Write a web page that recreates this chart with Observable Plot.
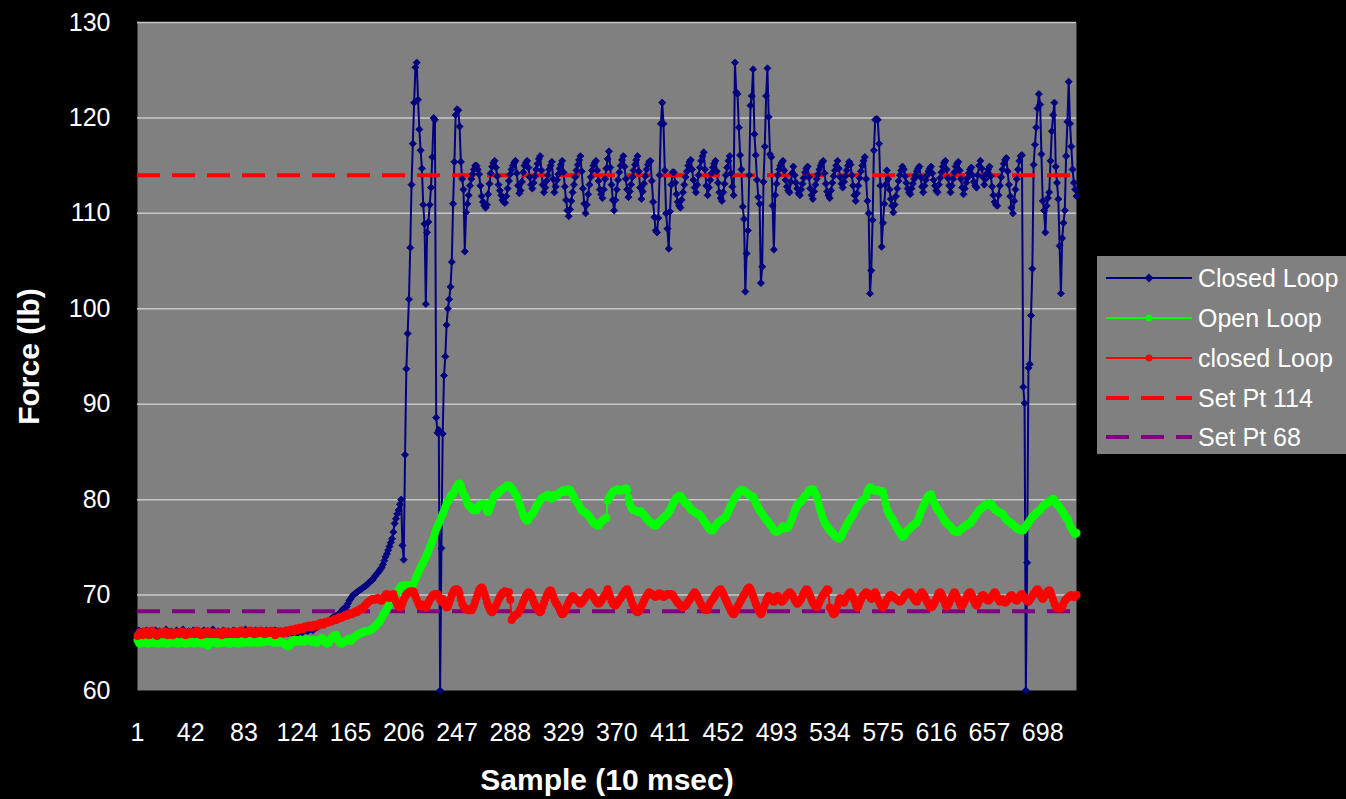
<!DOCTYPE html>
<html><head><meta charset="utf-8">
<script src="https://cdn.jsdelivr.net/npm/d3@7"></script>
<script src="https://cdn.jsdelivr.net/npm/@observablehq/plot@0.6"></script>
<style>
html,body{margin:0;padding:0;background:#000;overflow:hidden;}
#wrap{position:relative;width:1346px;height:799px;font-family:"Liberation Sans",Arial,sans-serif;}
#legend{position:absolute;left:1097px;top:256px;width:249px;height:198px;background:#808080;}
.row{position:absolute;left:0;height:40px;width:249px;}
.row svg{position:absolute;left:9px;top:0;}
.row span{position:absolute;left:101px;top:0;line-height:40px;font-size:25px;color:#fff;white-space:nowrap;}
</style></head><body><div id="wrap"></div>
<script>
// Closed Loop (navy, diamonds)
const closedLoop = [
66.0,66.3,65.9,66.1,66.2,65.8,66.0,66.3,66.1,65.9,
66.2,66.0,65.8,66.1,66.3,66.0,65.9,66.2,66.1,65.8,
66.0,66.2,66.4,66.1,65.9,66.0,66.2,66.0,65.8,66.1,
66.3,66.1,65.9,66.0,66.2,66.4,66.1,65.9,66.0,66.2,
66.1,65.9,66.0,66.3,66.1,65.8,66.0,66.2,66.0,65.9,
66.1,66.3,66.0,65.9,66.2,66.1,65.8,66.0,66.4,66.1,
65.9,66.0,66.2,66.1,65.9,66.0,66.3,66.1,65.9,66.0,
66.2,66.0,65.8,66.1,66.3,66.1,66.0,65.9,66.2,66.1,
65.9,66.0,66.2,66.4,66.1,65.9,66.0,66.2,66.0,65.9,
66.1,66.3,66.1,65.9,66.0,66.2,66.1,65.9,66.0,66.3,
66.1,66.0,65.9,66.2,66.0,66.1,66.3,66.0,65.9,66.1,
66.2,66.0,65.9,66.1,66.3,66.1,66.0,66.2,66.1,66.0,
66.1,66.3,66.2,66.0,66.1,66.3,66.2,66.1,66.3,66.4,
66.3,66.2,66.4,66.5,66.4,66.3,66.5,66.6,66.6,66.7,
66.8,66.9,67.0,67.0,67.1,67.1,67.2,67.3,67.3,67.5,
67.6,67.7,67.8,67.8,67.9,68.0,68.0,68.3,68.5,68.6,
68.7,68.8,69.1,69.4,69.6,69.8,70.0,70.1,70.2,70.3,
70.4,70.5,70.6,70.7,70.8,70.9,71.0,71.1,71.3,71.4,
71.5,71.6,71.8,72.0,72.2,72.3,72.5,72.7,72.9,73.2,
73.6,74.0,74.3,74.7,75.1,75.5,75.9,76.6,77.5,78.0,
78.5,78.9,79.5,80.0,75.2,73.7,84.7,93.7,97.4,101.0,
106.4,113.0,117.3,121.6,125.3,125.8,121.9,118.8,116.6,114.7,
110.9,108.9,100.5,108.0,109.1,110.9,112.7,115.9,120.0,119.8,
88.6,87.0,87.3,60.0,74.9,86.9,93.0,95.0,98.3,100.0,
101.0,102.3,104.9,111.0,115.4,120.3,120.9,120.8,119.1,115.4,
113.6,112.5,106.0,110.1,111.0,111.9,112.9,113.6,114.1,114.6,
115.0,115.0,114.6,114.1,112.9,111.8,111.2,110.8,110.6,110.9,
112.0,113.1,114.2,114.9,115.3,115.5,114.8,113.9,113.0,112.4,
111.9,111.4,111.2,111.1,111.8,112.6,113.4,114.1,114.6,115.0,
115.3,115.5,114.2,112.9,112.1,112.4,113.3,114.3,115.0,115.3,
115.5,114.8,113.8,113.0,112.6,113.2,113.9,114.6,115.2,115.7,
116.0,114.5,113.0,112.2,112.7,113.4,114.0,114.6,115.0,115.4,
113.6,112.2,112.8,113.5,114.1,114.7,115.1,115.5,114.3,112.8,
111.4,110.3,109.7,110.4,111.3,112.2,113.0,113.8,114.5,115.1,
115.6,116.0,114.4,112.6,111.0,110.0,110.9,112.0,113.0,113.8,
114.5,115.0,115.3,115.5,114.5,113.4,112.5,112.0,111.6,112.5,
113.6,114.7,115.7,116.5,114.8,113.0,111.4,110.3,111.4,112.5,
113.5,114.3,115.0,115.6,116.0,114.9,113.6,112.5,111.7,112.3,
113.0,113.8,114.5,115.1,115.6,116.0,114.4,112.7,111.5,112.3,
113.1,113.9,114.6,115.1,115.4,115.5,113.4,111.2,109.6,108.2,
108.0,109.5,114.0,119.4,121.6,119.4,114.5,110.0,108.4,106.3,
110.2,113.0,114.3,114.3,113.2,112.0,111.2,110.8,110.6,111.4,
112.2,113.0,113.8,114.4,115.0,115.4,115.6,114.6,113.5,112.7,
112.2,113.0,114.0,114.8,115.5,116.0,116.4,114.6,112.9,111.9,
112.7,113.5,114.2,114.8,115.2,115.5,114.4,113.2,112.2,111.6,
111.3,112.2,113.1,114.0,114.8,115.5,116.0,114.2,112.8,111.9,
125.8,122.7,122.5,119.0,116.1,114.6,110.7,109.4,101.8,105.8,
108.2,114.0,121.3,122.3,125.1,118.3,116.1,113.5,111.7,111.0,
102.7,104.4,113.3,117.0,122.3,125.2,120.1,116.2,115.9,110.8,
106.2,111.9,113.1,114.0,114.6,115.0,115.3,115.5,114.5,113.5,
112.8,112.4,112.2,113.3,114.2,114.9,114.0,113.2,112.6,112.1,
111.9,112.5,113.1,113.7,114.3,114.7,114.9,113.8,112.6,111.9,
111.5,112.3,113.0,113.6,114.1,114.6,115.0,115.3,115.5,114.2,
113.1,112.3,111.9,111.6,112.4,113.2,113.9,114.5,115.0,115.5,
114.7,113.8,113.1,112.7,113.3,113.9,114.5,115.0,115.4,115.1,
114.0,112.9,111.9,111.3,112.1,112.9,113.7,114.4,115.0,115.5,
115.9,113.6,111.3,110.0,101.6,104.0,109.3,116.6,119.8,119.9,
119.8,117.3,112.9,106.5,109.0,111.0,113.0,114.5,113.6,112.5,
111.5,110.8,110.1,110.9,111.8,112.6,113.4,114.0,114.5,114.9,
114.6,113.9,113.2,112.6,112.2,112.0,112.6,113.1,113.6,114.0,
114.4,114.7,114.9,113.8,112.8,112.2,112.9,113.5,114.0,114.4,
114.7,114.9,114.2,113.5,112.9,112.4,112.2,113.0,113.7,114.3,
114.9,115.3,115.5,114.6,113.7,112.9,112.2,112.9,113.6,114.3,
114.9,115.2,115.4,114.5,113.6,112.7,112.0,112.6,113.2,113.7,
114.2,114.6,114.8,114.0,113.3,112.9,112.7,114.0,115.0,115.5,
114.7,113.8,113.0,113.6,114.2,114.6,114.9,113.9,112.8,111.9,
111.2,110.9,110.8,111.9,112.9,113.8,114.6,115.2,115.6,115.8,
114.4,113.0,111.8,110.6,110.0,111.3,112.5,113.6,114.6,115.5,
116.0,116.1,91.8,90.1,60.0,73.4,93.8,94.2,99.3,104.2,
115.1,117.2,119.0,121.0,122.5,121.4,116.2,111.3,110.3,108.0,
110.8,111.6,112.2,115.5,118.6,120.3,121.6,114.9,113.2,111.5,
106.6,101.6,107.4,109.0,110.3,116.0,119.6,123.8,119.4,117.0,
114.6,113.2,112.5,111.8
];
// Open Loop (green)
const openLoop = [
65.3,65.0,64.9,65.2,65.1,65.0,65.3,65.1,64.9,65.0,
65.2,65.1,65.0,65.3,65.2,65.0,64.9,65.1,65.2,65.0,
65.1,65.3,65.0,64.9,65.1,65.2,65.0,65.1,65.3,65.1,
65.0,64.9,65.1,65.2,65.0,65.1,65.0,64.9,65.2,65.1,
65.0,65.1,65.3,65.0,64.9,65.1,65.0,65.2,65.1,64.9,
65.0,65.1,65.2,65.0,64.7,64.9,65.1,65.0,65.2,65.1,
65.0,65.1,64.9,65.0,65.2,65.1,65.0,65.1,65.3,65.1,
65.0,64.9,65.1,65.0,65.2,65.1,65.0,65.1,64.9,65.0,
65.1,65.2,65.0,65.1,65.3,65.2,65.0,65.1,65.0,65.2,
65.3,65.1,65.0,65.2,65.1,65.0,65.1,65.3,65.2,65.1,
65.3,65.4,65.2,65.1,65.2,65.0,65.1,65.2,65.0,65.1,
65.2,65.1,65.0,64.9,64.8,64.7,64.6,64.7,65.0,65.2,
65.3,65.1,65.2,65.3,65.2,65.1,65.3,65.2,65.1,65.2,
65.3,65.4,65.3,65.2,65.1,65.2,65.3,65.2,65.0,65.1,
65.3,65.4,65.5,65.4,65.2,65.0,64.9,65.0,65.2,65.4,
65.6,65.7,65.8,65.8,65.5,65.2,65.0,64.9,65.0,65.1,
65.2,65.3,65.4,65.3,65.2,65.3,65.5,65.6,65.7,65.8,
65.9,66.0,66.0,66.1,66.1,66.2,66.2,66.2,66.3,66.3,
66.4,66.5,66.6,66.7,66.9,67.0,67.2,67.4,67.6,67.9,
68.1,68.3,68.5,68.8,69.1,69.3,69.5,69.7,69.9,70.1,
70.3,70.5,70.7,70.9,71.0,71.0,71.0,71.0,71.0,71.0,
71.0,71.0,71.1,71.3,71.7,72.0,72.3,72.6,72.9,73.2,
73.4,73.7,74.0,74.3,74.6,75.0,75.3,75.7,76.1,76.5,
76.9,77.2,77.5,77.8,78.2,78.5,78.8,79.2,79.6,79.8,
80.0,80.3,80.5,80.6,80.9,81.2,81.4,81.6,81.7,81.5,
81.0,80.6,80.4,80.1,79.6,79.4,79.3,79.1,79.0,78.9,
78.9,78.9,79.2,79.4,79.4,79.5,79.6,79.6,79.2,78.8,
78.7,79.0,79.4,79.8,80.2,80.5,80.6,80.6,80.7,80.9,
81.0,81.1,81.2,81.3,81.4,81.5,81.4,81.4,81.2,81.0,
80.8,80.6,80.3,80.0,79.6,79.2,78.8,78.4,78.1,77.9,
77.8,77.9,78.2,78.4,78.5,78.7,79.0,79.3,79.5,79.7,
79.9,80.1,80.2,80.3,80.3,80.4,80.5,80.4,80.2,80.1,
80.3,80.5,80.4,80.4,80.6,80.7,80.8,80.9,81.0,80.8,
80.9,81.0,81.1,81.0,80.7,80.5,80.2,80.0,79.8,79.6,
79.4,79.1,78.9,78.8,78.7,78.6,78.5,78.4,78.2,78.0,
77.8,77.6,77.5,77.4,77.3,77.3,77.5,77.7,77.8,77.9,
78.0,78.1,79.9,80.2,80.4,80.6,80.8,80.9,81.0,81.0,
81.1,81.0,80.9,81.0,81.1,81.0,81.2,81.0,80.2,79.6,
79.2,79.0,78.9,78.9,78.8,78.7,78.7,78.8,78.7,78.5,
78.4,78.2,78.0,77.9,77.7,77.6,77.5,77.4,77.3,77.3,
77.4,77.6,77.7,77.8,78.0,78.1,78.2,78.4,78.5,78.7,
78.9,79.2,79.5,79.8,80.0,80.2,80.3,80.4,80.4,80.2,
80.0,79.8,79.6,79.6,79.4,79.2,79.0,78.9,78.8,78.7,
78.6,78.5,78.5,78.4,78.2,78.0,77.8,77.6,77.4,77.2,
77.0,76.9,76.8,76.8,77.0,77.2,77.4,77.6,77.7,77.8,
77.9,78.0,78.1,78.2,78.5,78.8,79.1,79.4,79.7,80.0,
80.2,80.4,80.6,80.8,80.9,81.0,81.0,80.9,80.8,80.7,
80.6,80.5,80.4,80.3,80.3,80.0,79.7,79.4,79.1,78.9,
78.7,78.5,78.3,78.1,77.9,77.8,77.6,77.4,77.2,77.0,
76.8,76.7,76.6,76.7,76.8,76.9,77.0,77.2,77.1,77.0,
77.0,77.1,77.4,77.7,78.0,78.4,78.8,79.1,79.4,79.6,
79.8,79.8,80.0,80.2,80.4,80.5,80.7,80.9,81.0,81.1,
81.1,80.9,80.6,80.3,79.8,79.2,78.8,78.4,78.0,77.6,
77.4,77.2,77.0,76.8,76.7,76.5,76.4,76.2,76.1,76.0,
75.9,76.0,76.2,76.5,76.8,77.1,77.3,77.6,77.8,78.0,
78.2,78.4,78.7,79.0,79.2,79.4,79.6,79.8,79.9,80.0,
80.1,80.4,80.8,81.1,81.3,81.2,81.1,81.0,80.9,81.0,
81.0,80.9,80.8,80.9,80.8,80.3,79.6,79.0,78.7,78.4,
78.2,78.0,77.8,77.5,77.2,77.0,76.8,76.6,76.3,76.1,
76.2,76.4,76.6,76.8,76.9,77.0,77.2,77.3,77.4,77.5,
77.6,77.9,78.3,78.7,79.0,79.3,79.6,79.9,80.2,80.4,
80.5,80.6,80.2,79.8,79.5,79.2,79.0,78.8,78.6,78.3,
78.1,77.9,77.7,77.5,77.4,77.3,77.2,77.0,76.8,76.7,
76.6,76.6,76.6,76.8,76.9,77.0,77.1,77.2,77.3,77.4,
77.5,77.5,77.7,77.9,78.1,78.3,78.5,78.7,78.9,79.0,
79.1,79.2,79.3,79.5,79.6,79.5,79.4,79.6,79.4,79.2,
79.0,78.9,78.8,78.7,78.6,78.6,78.5,78.3,78.1,77.9,
77.8,77.7,77.6,77.5,77.4,77.3,77.1,77.0,76.9,76.9,
76.8,76.8,76.8,77.0,77.2,77.4,77.6,77.8,78.0,78.2,
78.3,78.4,78.6,78.7,78.8,78.9,79.1,79.3,79.4,79.5,
79.6,79.7,79.8,79.9,80.0,80.1,79.9,79.7,79.5,79.4,
79.2,79.0,78.8,78.6,78.3,78.1,78.0,77.7,77.3,77.0,
76.8,76.6,76.4,76.5
];
// closed Loop (red)
const closedLoop2 = [
65.7,65.9,66.1,66.0,65.8,66.0,66.2,66.0,65.9,65.8,
66.0,66.3,66.1,65.9,66.0,65.7,65.9,66.1,66.0,65.9,
66.0,66.2,66.0,65.8,65.9,66.1,66.0,65.8,65.9,66.0,
66.1,66.0,65.9,66.0,66.2,66.1,65.9,65.8,66.0,66.1,
65.9,66.0,66.1,66.0,65.9,66.1,66.3,66.1,65.9,65.8,
66.0,66.1,65.9,66.0,66.2,66.0,65.9,66.0,66.1,65.9,
66.0,65.9,66.0,66.1,66.0,65.8,66.0,66.2,66.1,65.9,
66.0,66.1,66.0,65.9,66.1,66.2,66.0,65.9,66.0,66.2,
66.3,66.1,66.0,65.9,66.1,66.0,66.2,66.3,66.1,66.0,
65.9,66.1,66.2,66.0,66.1,66.3,66.2,66.0,65.9,66.1,
66.2,66.0,66.1,66.3,66.1,66.0,65.8,66.0,66.2,66.1,
66.0,66.2,66.1,66.0,66.2,66.3,66.1,66.2,66.4,66.3,
66.2,66.4,66.5,66.3,66.4,66.6,66.5,66.4,66.6,66.7,
66.6,66.7,66.8,66.7,66.6,66.8,66.9,66.8,66.7,66.9,
67.0,67.1,67.0,66.9,67.1,67.2,67.1,67.2,67.3,67.2,
67.3,67.4,67.5,67.4,67.5,67.6,67.7,67.6,67.7,67.8,
67.9,67.8,67.9,68.0,68.1,68.0,68.1,68.2,68.3,68.2,
68.4,68.5,68.6,68.5,68.7,68.9,69.0,69.2,69.3,69.4,
69.5,69.6,69.6,69.5,69.6,69.7,69.6,69.5,69.4,69.6,
69.8,70.0,70.1,69.9,69.7,69.9,70.0,70.1,69.7,69.3,
69.0,68.8,68.7,68.8,69.1,69.5,69.8,70.0,70.2,70.3,
70.4,70.3,70.4,70.3,69.9,69.5,69.2,68.9,68.8,68.9,
69.0,68.8,68.7,68.9,69.2,69.5,69.7,69.9,70.0,70.1,
70.0,70.1,69.8,69.5,69.3,69.6,69.2,68.9,68.7,68.8,
69.2,69.6,70.0,70.3,70.5,70.6,70.6,70.5,70.2,69.6,
69.1,68.8,68.6,68.6,68.5,68.4,68.5,68.4,68.6,68.9,
69.3,69.7,70.1,70.5,70.7,70.8,70.6,70.2,69.8,69.3,
68.9,68.6,68.3,68.2,68.4,68.6,68.9,69.2,69.5,69.8,
70.0,70.2,70.3,70.4,70.3,70.2,70.3,69.5,67.4,67.6,
67.8,67.9,68.0,68.1,68.3,68.6,68.9,69.3,69.6,69.9,
70.1,70.3,70.2,70.0,69.7,69.3,69.0,68.7,68.5,68.3,
68.2,68.4,68.8,69.2,69.6,69.9,70.2,70.4,70.5,70.3,
69.9,69.5,69.2,69.0,68.8,68.5,68.2,68.0,68.1,68.3,
68.6,68.9,69.2,69.5,69.7,69.9,69.8,69.6,69.5,69.4,
69.2,69.1,69.2,69.4,69.6,69.8,70.0,70.2,70.3,70.2,
70.0,69.8,69.6,69.4,69.2,69.1,69.2,69.4,69.6,69.8,
70.0,70.2,70.6,70.2,69.8,69.4,69.1,69.0,68.9,69.1,
69.3,69.5,69.7,69.9,70.1,70.3,70.5,70.6,70.3,69.9,
69.5,69.1,68.8,68.5,68.3,68.2,68.3,68.5,68.8,69.1,
69.4,69.7,69.9,70.1,70.3,70.2,70.1,70.0,69.9,69.8,
69.9,70.1,70.2,70.1,69.9,69.8,69.9,70.0,70.1,70.0,
70.1,70.1,70.0,69.8,69.6,69.4,69.2,69.1,68.9,68.8,
68.7,68.8,68.9,69.1,69.3,69.5,69.7,69.9,70.1,70.3,
70.1,69.9,69.6,69.3,69.0,68.8,68.6,68.5,68.4,68.6,
68.9,69.2,69.4,69.6,69.8,70.0,70.2,70.4,70.5,70.6,
70.4,70.1,69.8,69.5,69.2,68.9,68.6,68.3,68.1,68.0,
68.2,68.5,68.8,69.0,69.3,69.5,69.8,70.0,70.2,70.5,
70.7,70.8,70.6,70.3,69.9,69.5,69.1,68.8,68.5,68.2,
68.0,68.2,68.6,69.0,69.4,69.7,69.9,69.8,69.6,69.4,
69.3,69.5,69.8,69.9,69.7,69.5,69.3,69.4,69.6,69.8,
70.0,70.1,70.3,70.2,70.0,69.8,69.5,69.3,69.1,69.2,
69.4,69.6,69.9,70.2,70.4,70.6,70.5,70.2,69.9,69.5,
69.2,69.0,68.8,68.7,68.9,69.2,69.5,69.8,70.0,70.2,
70.4,70.6,70.5,68.7,68.5,68.2,68.0,68.1,68.4,68.9,
69.4,69.7,69.6,69.4,69.2,69.5,69.8,70.0,70.2,70.3,
70.1,69.8,69.4,69.0,68.7,68.8,69.2,69.5,69.8,70.0,
70.1,70.3,70.2,70.0,69.8,69.6,69.8,70.1,70.3,70.0,
69.6,69.3,69.0,68.8,68.7,68.9,69.2,69.5,69.7,69.9,
70.0,69.9,69.8,69.7,69.6,69.5,69.4,69.3,69.4,69.6,
69.8,70.0,70.1,70.2,70.3,70.2,70.0,69.8,69.6,69.4,
69.3,69.6,69.9,70.1,70.3,70.1,69.9,69.6,69.3,69.0,
68.8,68.7,68.8,69.0,69.3,69.6,69.9,70.2,70.3,70.1,
69.8,69.4,69.0,68.8,68.9,69.2,69.5,69.8,70.1,70.3,
70.1,69.8,69.5,69.2,68.9,68.9,69.1,69.4,69.7,70.0,
70.2,70.3,70.1,69.8,69.4,69.1,68.9,69.1,69.4,69.7,
69.9,70.0,69.9,69.7,69.5,69.4,69.5,69.7,69.9,70.1,
70.3,70.1,69.8,69.5,69.3,69.4,69.6,69.4,69.2,69.3,
69.5,69.7,69.9,70.0,69.8,69.6,69.5,69.4,69.6,69.8,
70.0,70.1,69.9,69.7,69.5,69.4,69.3,69.5,69.7,69.9,
70.1,70.3,70.5,70.6,70.4,70.1,69.8,69.6,69.8,70.0,
70.2,70.4,70.5,70.3,69.9,69.5,69.1,68.8,68.6,68.7,
68.6,68.6,68.8,69.1,69.4,69.6,69.7,69.8,69.9,70.0,
69.9,69.8,69.9,70.0
];
const setPoint114 = [114];
const setPoint68 = [68.3];
const xTickLabels = [1,42,83,124,165,206,247,288,329,370,411,452,493,534,575,616,657,698];
const yTickLabels = [60,70,80,90,100,110,120,130];
const gridValues = [70,80,90,100,110,120,130];
const seriesNames = ["Closed Loop","Open Loop","closed Loop","Set Pt 114","Set Pt 68"];

const N = 724;
const rows = arr => arr.map((v, i) => ({x: i + 1, y: v}));
const blue = rows(closedLoop), green = rows(openLoop), red = rows(closedLoop2);
const diamond = d3.symbolDiamond2 || "diamond";
const font = "Liberation Sans, Arial, sans-serif";

const chart = Plot.plot({
  width: 1346, height: 799,
  marginLeft: 137, marginRight: 270, marginTop: 22, marginBottom: 109,
  style: {background: "#000", color: "#fff", fontFamily: font, fontSize: "25px", overflow: "visible"},
  x: {domain: [1, N]},
  y: {domain: [60, 130]},
  marks: [
    Plot.frame({fill: "#808080", stroke: null}),
    Plot.gridY(gridValues, {stroke: "#c8c8c8", strokeOpacity: 1, strokeWidth: 1.5}),
    Plot.axisY(yTickLabels, {tickSize: 0, tickPadding: 27, fontSize: 25, label: null}),
    Plot.axisX(xTickLabels, {tickSize: 0, tickPadding: 33, fontSize: 25, label: null, tickFormat: d => String(d)}),
    Plot.line(blue, {x: "x", y: "y", stroke: "#000080", strokeWidth: 2}),
    Plot.ruleY(setPoint114, {stroke: "#ff0000", strokeWidth: 4, strokeDasharray: "23 12"}),
    Plot.dot(blue, {x: "x", y: "y", symbol: diamond, r: 3.2, fill: "#000080", stroke: "#000080", strokeWidth: 0.8}),
    Plot.ruleY(setPoint68, {stroke: "#800080", strokeWidth: 4, strokeDasharray: "23 12"}),
    Plot.line(green, {x: "x", y: "y", stroke: "#00ff00", strokeWidth: 2}),
    Plot.dot(green, {x: "x", y: "y", r: 4, fill: "#00ff00", stroke: null}),
    Plot.line(red, {x: "x", y: "y", stroke: "#ff0000", strokeWidth: 2}),
    Plot.dot(red, {x: "x", y: "y", r: 4, fill: "#ff0000", stroke: null}),
    Plot.text(["Force (lb)"], {frameAnchor: "left", dx: -108, rotate: -90, textAnchor: "middle", lineAnchor: "middle", fontSize: 30, fontWeight: "bold", fill: "#fff"}),
    Plot.text(["Sample (10 msec)"], {frameAnchor: "bottom", dy: 90, textAnchor: "middle", lineAnchor: "middle", fontSize: 30, fontWeight: "bold", fill: "#fff"})
  ]
});
const wrap = document.getElementById("wrap");
wrap.appendChild(chart);

// Legend
const legend = document.createElement("div");
legend.id = "legend";
const centers = [22.3, 62.3, 102.3, 142.3, 180.7];
const kinds = [
  {stroke: "#000080", w: 2, marker: "diamond"},
  {stroke: "#00ff00", w: 2, marker: "circle"},
  {stroke: "#ff0000", w: 2, marker: "circle"},
  {stroke: "#ff0000", w: 4, dash: "23 12"},
  {stroke: "#800080", w: 4, dash: "23 12"}
];
seriesNames.forEach((name, i) => {
  const k = kinds[i];
  const row = document.createElement("div");
  row.className = "row";
  row.style.top = (centers[i] - 20) + "px";
  let m = "";
  if (k.marker === "diamond") m = `<path d="M43,15.5 L47.5,20 L43,24.5 L38.5,20 Z" fill="${k.stroke}"/>`;
  else if (k.marker === "circle") m = `<circle cx="43" cy="20" r="3.5" fill="${k.stroke}"/>`;
  row.innerHTML = `<svg width="86" height="40"><line x1="0" x2="86" y1="20" y2="20" stroke="${k.stroke}" stroke-width="${k.w}" ${k.dash ? `stroke-dasharray="${k.dash}"` : ""}/>${m}</svg><span>${name}</span>`;
  legend.appendChild(row);
});
wrap.appendChild(legend);
</script>
</body></html>
